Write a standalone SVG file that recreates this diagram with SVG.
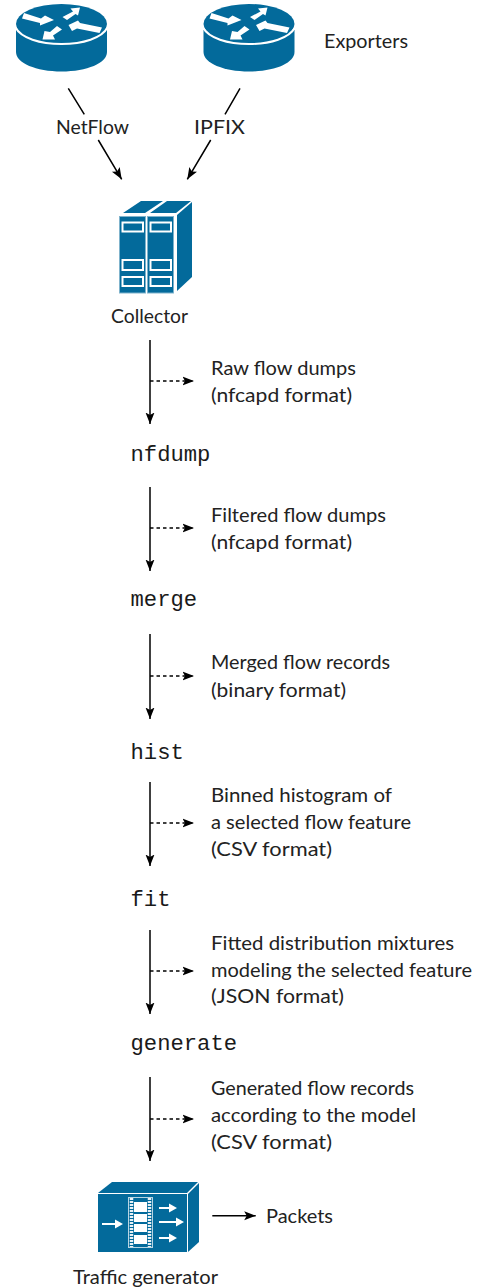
<svg xmlns="http://www.w3.org/2000/svg" xmlns:xlink="http://www.w3.org/1999/xlink" width="480" height="1288" viewBox="0 0 480 1288">
<style>
.t{font-family:"Lato","Open Sans","Liberation Sans",sans-serif;font-size:20px;fill:#222}
.m{font-family:"Liberation Mono","DejaVu Sans Mono",monospace;font-size:22.2px;fill:#1a1a1a}
.c{fill:none;stroke:#000;stroke-width:1.5}
.d{fill:none;stroke:#000;stroke-width:1.3;stroke-dasharray:3.5 3}
.b{fill:#036a9b}
.w{fill:#fff}
.ws{fill:none;stroke:#fff;stroke-width:2}
</style>
<defs>
<marker id="a" markerUnits="userSpaceOnUse" markerWidth="14" markerHeight="12" refX="11.500" refY="5" orient="auto"><path d="M0 0.500L11.500 5L0 9.500L2.500 5Z" fill="#000"/></marker>
<g id="router">
<path class="b" d="M16 30V52C16 63 36 71.500 61.500 71.500C87 71.500 107 63 107 52V30Z"/>
<ellipse class="b" cx="61.500" cy="24" rx="45.500" ry="20"/>
<path class="ws" d="M15.500 27.500C21 38 40 44 61.500 44C83 44 102 38 107.500 27.500"/>
<path class="w" d="M24 13L22 18.500L40 23L40 25.500L54 20L45 15.500L41 18.500Z"/>
<path class="w" d="M62.500 17L67 20L75.500 14L78 15.500L80 7.500L70.500 8.500L73 11.500Z"/>
<path class="w" d="M102 27.500L99.500 33L77 28.500L72 31L68.500 25L78 20.500L80 23Z"/>
<path class="w" d="M57 26L62 29.500L53 35.500L55 39.500L42.500 39.500L44.500 31L50 32Z"/>
</g>
<g id="rack">
<rect class="b" x="0.500" y="0.500" width="26" height="76.500" stroke="#7fb3cc" stroke-width="1"/>
<rect class="ws" x="3.500" y="6.500" width="20.500" height="9"/>
<rect class="ws" x="3.500" y="44" width="20.500" height="10"/>
<rect class="ws" x="3.500" y="61" width="20.500" height="9"/>
</g>
</defs>
<g id="exporter1"><use xlink:href="#router" href="#router"/></g>
<g id="exporter2"><use xlink:href="#router" href="#router" x="187.500"/></g>
<g id="exporters-label"><text class="t" x="324" y="48" textLength="84" lengthAdjust="spacingAndGlyphs">Exporters</text></g>
<g id="collector">
<path class="b" d="M123 213L141 201H163L145 213ZM150 213L167 201H191L176 213Z"/>
<path class="b" d="M177 215L192 202V277L177 291Z"/>
<use xlink:href="#rack" href="#rack" x="119" y="216"/>
<use xlink:href="#rack" href="#rack" x="147" y="216"/>
<text class="t" x="111" y="323" textLength="77" lengthAdjust="spacingAndGlyphs">Collector</text>
</g>
<g id="connectors">
<path class="c" d="M68.300 88.300L84.300 114.300M98.300 140L121.700 179.300" marker-end="url(#a)"/>
<path class="c" d="M240 88.300L225 114.300M210.700 140L187.300 179.300" marker-end="url(#a)"/>
<path class="c" d="M150 340V424" marker-end="url(#a)"/><path class="d" d="M150 381H194" marker-end="url(#a)"/>
<path class="c" d="M150 487V571" marker-end="url(#a)"/><path class="d" d="M150 528H194" marker-end="url(#a)"/>
<path class="c" d="M150 634V719" marker-end="url(#a)"/><path class="d" d="M150 676H194" marker-end="url(#a)"/>
<path class="c" d="M150 782V866" marker-end="url(#a)"/><path class="d" d="M150 823H194" marker-end="url(#a)"/>
<path class="c" d="M150 930V1014" marker-end="url(#a)"/><path class="d" d="M150 971H194" marker-end="url(#a)"/>
<path class="c" d="M150 1077V1161" marker-end="url(#a)"/><path class="d" d="M150 1119H194" marker-end="url(#a)"/>
<path class="c" d="M212.300 1215.700H255.700" marker-end="url(#a)"/>
</g>
<g id="edge-labels">
<text class="t" x="56" y="134" textLength="73" lengthAdjust="spacingAndGlyphs">NetFlow</text>
<text class="t" x="194" y="134" textLength="51" lengthAdjust="spacingAndGlyphs">IPFIX</text>
<text class="t" x="211" y="375" textLength="145" lengthAdjust="spacingAndGlyphs">Raw flow dumps</text><text class="t" x="211" y="402" textLength="141" lengthAdjust="spacingAndGlyphs">(nfcapd format)</text>
<text class="t" x="211" y="522" textLength="175" lengthAdjust="spacingAndGlyphs">Filtered flow dumps</text><text class="t" x="211" y="549" textLength="141" lengthAdjust="spacingAndGlyphs">(nfcapd format)</text>
<text class="t" x="211" y="669" textLength="179" lengthAdjust="spacingAndGlyphs">Merged flow records</text><text class="t" x="211" y="697" textLength="135" lengthAdjust="spacingAndGlyphs">(binary format)</text>
<text class="t" x="211" y="802" textLength="181" lengthAdjust="spacingAndGlyphs">Binned histogram of</text><text class="t" x="211" y="829" textLength="200" lengthAdjust="spacingAndGlyphs">a selected flow feature</text><text class="t" x="211" y="856" textLength="121" lengthAdjust="spacingAndGlyphs">(CSV format)</text>
<text class="t" x="211" y="950" textLength="243" lengthAdjust="spacingAndGlyphs">Fitted distribution mixtures</text><text class="t" x="211" y="977" textLength="261" lengthAdjust="spacingAndGlyphs">modeling the selected feature</text><text class="t" x="211" y="1003" textLength="133" lengthAdjust="spacingAndGlyphs">(JSON format)</text>
<text class="t" x="211" y="1095" textLength="203" lengthAdjust="spacingAndGlyphs">Generated flow records</text><text class="t" x="211" y="1122" textLength="205" lengthAdjust="spacingAndGlyphs">according to the model</text><text class="t" x="211" y="1149" textLength="121" lengthAdjust="spacingAndGlyphs">(CSV format)</text>
<text class="t" x="266" y="1223" textLength="67" lengthAdjust="spacingAndGlyphs">Packets</text>
</g>
<g id="nfdump"><text class="m" x="130.500" y="461">nfdump</text></g>
<g id="merge"><text class="m" x="130.500" y="606">merge</text></g>
<g id="hist"><text class="m" x="130.500" y="759">hist</text></g>
<g id="fit"><text class="m" x="130.500" y="906">fit</text></g>
<g id="generate"><text class="m" x="130.500" y="1050">generate</text></g>
<g id="traffic-generator">
<path class="b" d="M98 1193L112 1182H198L187 1193Z"/>
<path class="b" d="M188 1194L199 1183V1242L188 1252Z"/>
<rect class="b" x="98" y="1194" width="89" height="58"/>
<rect x="128.500" y="1197.500" width="24" height="50" fill="#036a9b" stroke="#b8d5e3" stroke-width="1"/>
<path d="M131.500 1198V1247M149.500 1198V1247" stroke="#e6f0f5" stroke-width="3.500" stroke-dasharray="2 1"/>
<rect class="w" x="134" y="1202" width="13" height="10"/><rect class="w" x="134" y="1214" width="13" height="8"/><rect class="w" x="134" y="1224" width="13" height="8"/><rect class="w" x="134" y="1235" width="13" height="9"/>
<path class="w" d="M102 1223H115V1219.500L123 1224L115 1228.500V1225H102ZM159 1207H169V1203.500L177 1208L169 1212.500V1209H159ZM159 1221H176V1217.500L184 1222L176 1226.500V1223H159ZM159 1237H169V1233.500L177 1238L169 1242.500V1239H159Z"/>
<text class="t" x="73" y="1284" textLength="145" lengthAdjust="spacingAndGlyphs">Traffic generator</text>
</g>
</svg>
